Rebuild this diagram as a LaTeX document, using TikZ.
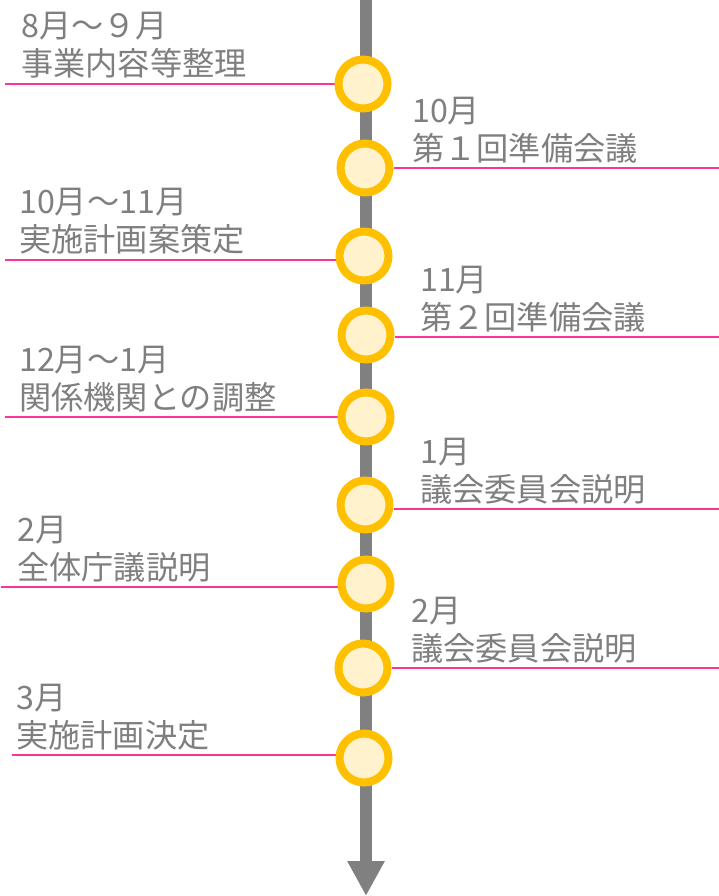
\documentclass[tikz,border=0pt]{standalone}
\usepackage{fontspec}
\setmainfont{Noto Sans CJK JP}
\usetikzlibrary{arrows.meta}
\definecolor{axisgray}{HTML}{808080}
\definecolor{txtgray}{HTML}{7F7F7F}
\definecolor{pinkline}{HTML}{FF3399}
\definecolor{ringgold}{HTML}{FFC000}
\definecolor{ringfill}{HTML}{FFF2CC}
\pgfdeclarelayer{bg}
\pgfsetlayers{bg,main}
\tikzset{
  ev/.style={circle, draw=ringgold, fill=ringfill, line width=8pt, minimum size=49pt, inner sep=0pt},
  lbl/.style={anchor=south west, inner sep=0pt, text depth=0pt, align=left, text=txtgray,
    font=\fontsize{32.2}{38.5}\selectfont},
  conn/.style={draw=pinkline, line width=2.2pt},
  axisline/.style={draw=axisgray, line width=12pt, -{Triangle[width=35pt,length=35pt]}}
}
\begin{document}
\begin{tikzpicture}[x=1pt,y=-1pt]
\useasboundingbox (0,0) rectangle (719,896);
\coordinate (top) at (366,0);
\coordinate (bot) at (366,896);
% events
\node[ev] (e1) at (363,84) {};
\node[ev] (e2) at (365,168) {};
\node[ev] (e3) at (364,256) {};
\node[ev] (e4) at (366,335) {};
\node[ev] (e5) at (366,417) {};
\node[ev] (e6) at (365,505) {};
\node[ev] (e7) at (366,584) {};
\node[ev] (e8) at (363,668) {};
\node[ev] (e9) at (364,758) {};
% line ends
\coordinate (l1) at (5,84);
\coordinate (r2) at (719,168);
\coordinate (l3) at (5,260);
\coordinate (r4) at (719,337);
\coordinate (l5) at (5,417);
\coordinate (r6) at (719,509);
\coordinate (l7) at (1,587);
\coordinate (r8) at (719,668);
\coordinate (l9) at (12,755);
\begin{pgfonlayer}{bg}
\draw[axisline] (top) -- (bot);
\draw[conn] (l1) -- (l1 -| e1.west);
\draw[conn] (r2) -- (r2 -| e2.east);
\draw[conn] (l3) -- (l3 -| e3.west);
\draw[conn] (r4) -- (r4 -| e4.east);
\draw[conn] (l5) -- (l5 -| e5.west);
\draw[conn] (r6) -- (r6 -| e6.east);
\draw[conn] (l7) -- (l7 -| e7.west);
\draw[conn] (r8) -- (r8 -| e8.east);
\draw[conn] (l9) -- (l9 -| e9.west);
\end{pgfonlayer}
% labels
\node[lbl] (t1) at (21,76) {8月～９月\\事業内容等整理};
\node[lbl] (t2) at (412,161) {10月\\第１回準備会議};
\node[lbl] (t3) at (19,252) {10月～11月\\実施計画案策定};
\node[lbl] (t4) at (420,330) {11月\\第２回準備会議};
\node[lbl] (t5) at (19,410) {12月～1月\\関係機関との調整};
\node[lbl] (t6) at (420,502) {1月\\議会委員会説明};
\node[lbl] (t7) at (17,580) {2月\\全体庁議説明};
\node[lbl] (t8) at (411,661) {2月\\議会委員会説明};
\node[lbl] (t9) at (16,748) {3月\\実施計画決定};
\end{tikzpicture}
\end{document}
